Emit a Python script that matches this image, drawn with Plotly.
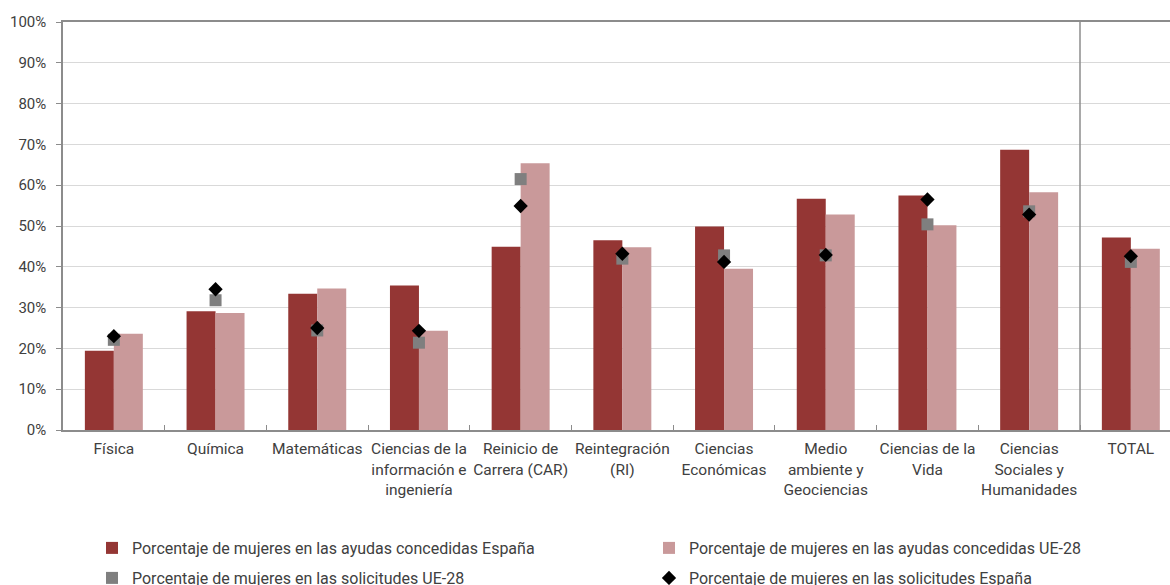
import plotly.graph_objects as go

categories = [
    "Física", "Química", "Matemáticas",
    "Ciencias de la<br>información e<br>ingeniería",
    "Reinicio de<br>Carrera (CAR)", "Reintegración<br>(RI)",
    "Ciencias<br>Económicas", "Medio<br>ambiente y<br>Geociencias",
    "Ciencias de la<br>Vida", "Ciencias<br>Sociales y<br>Humanidades", "TOTAL",
]
ayudas_espana = [19.4, 29.1, 33.4, 35.4, 44.9, 46.5, 49.9, 56.7, 57.5, 68.7, 47.2]
ayudas_ue28 = [23.6, 28.7, 34.7, 24.3, 65.4, 44.8, 39.5, 52.8, 50.2, 58.3, 44.4]
solicitudes_ue28 = [22.1, 31.8, 24.4, 21.4, 61.5, 42.0, 42.8, 42.8, 50.4, 53.6, 41.2]
solicitudes_espana = [23.0, 34.5, 25.0, 24.3, 54.9, 43.2, 41.2, 42.9, 56.5, 52.8, 42.6]

names = [
    "Porcentaje de mujeres en las ayudas concedidas España",
    "Porcentaje de mujeres en las ayudas concedidas UE-28",
    "Porcentaje de mujeres en las solicitudes UE-28",
    "Porcentaje de mujeres en las solicitudes España",
]

FONT = "Roboto"
TXT = "#404040"
AXIS = "#8c8c8c"

fig = go.Figure()
fig.add_trace(go.Bar(x=categories, y=ayudas_espana, name=names[0],
                     marker=dict(color="#943634", line=dict(width=0)), legend="legend"))
fig.add_trace(go.Bar(x=categories, y=ayudas_ue28, name=names[1],
                     marker=dict(color="#C9999A", line=dict(width=0)), legend="legend2"))
fig.add_trace(go.Scatter(x=categories, y=solicitudes_ue28, name=names[2], mode="markers",
                         marker=dict(symbol="square", size=12, color="#7F7F7F"),
                         legend="legend3"))
fig.add_trace(go.Scatter(x=categories, y=solicitudes_espana, name=names[3], mode="markers",
                         marker=dict(symbol="diamond", size=11, color="#000000"),
                         legend="legend4"))

fig.add_shape(type="line", xref="x", yref="paper", x0=9.5, x1=9.5, y0=0, y1=1,
              line=dict(color=AXIS, width=1.5))


def leg(x_text, y_center):
    return dict(orientation="h", xref="container", yref="container",
                x=(x_text - 40) / 1170, xanchor="left",
                y=1 - y_center / 585, yanchor="middle",
                font=dict(family=FONT, size=16, color=TXT),
                bgcolor="rgba(0,0,0,0)", itemclick=False, borderwidth=0)


fig.update_layout(
    width=1170, height=585,
    margin=dict(l=63, r=0, t=22, b=155),
    paper_bgcolor="white", plot_bgcolor="white",
    showlegend=True,
    barmode="group", bargap=0.43, bargroupgap=0,
    font=dict(family=FONT, size=15, color=TXT),
    legend=leg(132, 548),
    legend2=leg(689, 548),
    legend3=leg(132, 578),
    legend4=leg(689, 578),
    xaxis=dict(
        range=[-0.5, 10.385], tickmode="array", tickvals=categories,
        tickangle=0, automargin=False, ticklabelstandoff=4,
        showline=True, linecolor=AXIS, linewidth=1.5, mirror=True,
        ticks="inside", ticklen=5, tickcolor=AXIS, tickson="boundaries",
        showgrid=False, tickfont=dict(family=FONT, size=15.5, color=TXT),
    ),
    yaxis=dict(
        range=[0, 100], dtick=10, ticksuffix="%", automargin=False,
        ticklabelstandoff=7,
        showline=True, linecolor=AXIS, linewidth=1.5,
        ticks="outside", ticklen=5, tickcolor=AXIS,
        gridcolor="#D9D9D9", gridwidth=1, zeroline=False,
        tickfont=dict(family=FONT, size=15, color=TXT),
    ),
)

fig.write_html("out.html", config={"displayModeBar": False},
               post_script="document.body.style.margin='0';document.body.style.overflow='hidden';")
